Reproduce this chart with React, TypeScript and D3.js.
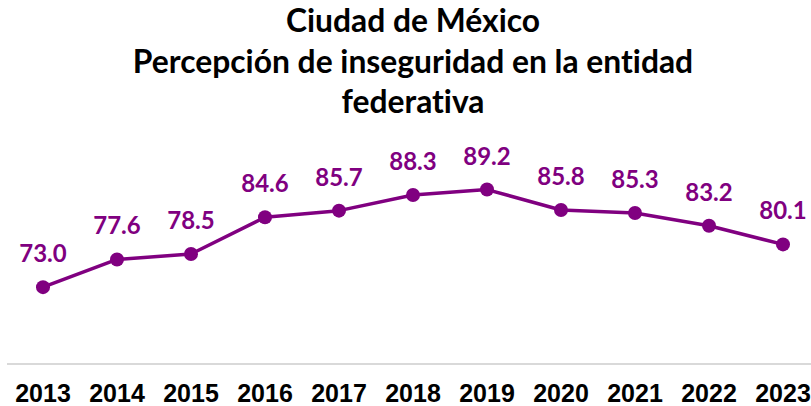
import React from "react";
import * as d3 from "d3";

const years = ["2013", "2014", "2015", "2016", "2017", "2018", "2019", "2020", "2021", "2022", "2023"];
const values = [73.0, 77.6, 78.5, 84.6, 85.7, 88.3, 89.2, 85.8, 85.3, 83.2, 80.1];
const titleLines = ["Ciudad de México", "Percepción de inseguridad en la entidad", "federativa"];

const W = 811;
const H = 406;
const PURPLE = "#800080";

export default function App() {
  const x = d3.scalePoint<string>().domain(years).range([43, 783]);
  const y = d3.scaleLinear().domain([60, 100]).range([365.5, 124.5]);
  const line = d3
    .line<number>()
    .x((_, i) => x(years[i]) as number)
    .y((d) => y(d));

  return (
    <svg
      width={W}
      height={H}
      style={{ position: "absolute", left: 0, top: 0, background: "#fff" }}
    >
      {titleLines.map((t, i) => (
        <text
          key={i}
          x={413}
          y={32 + i * 40.5}
          textAnchor="middle"
          fontFamily="Lato, 'Open Sans', sans-serif"
          fontWeight="bold"
          fontSize={31.8}
          fill="#000"
          style={{ fontVariantLigatures: "none" }}
        >
          {t}
        </text>
      ))}
      <line x1={7} x2={811} y1={364} y2={364} stroke="#d9d9d9" strokeWidth={2} />
      <path d={line(values) || ""} fill="none" stroke={PURPLE} strokeWidth={3.5} strokeLinejoin="round" />
      {values.map((v, i) => (
        <circle key={i} cx={x(years[i])} cy={y(v)} r={7} fill={PURPLE} />
      ))}
      {values.map((v, i) => (
        <text
          key={"l" + i}
          x={x(years[i])}
          y={y(v) - 25}
          textAnchor="middle"
          fontFamily="Lato, 'Open Sans', sans-serif"
          fontWeight="bold"
          fontSize={24}
          fill={PURPLE}
        >
          {v.toFixed(1)}
        </text>
      ))}
      {years.map((yr) => (
        <text
          key={yr}
          x={x(yr)}
          y={402}
          textAnchor="middle"
          fontFamily="'Liberation Sans', Arial, sans-serif"
          fontWeight="bold"
          fontSize={25}
          fill="#000"
        >
          {yr}
        </text>
      ))}
    </svg>
  );
}
